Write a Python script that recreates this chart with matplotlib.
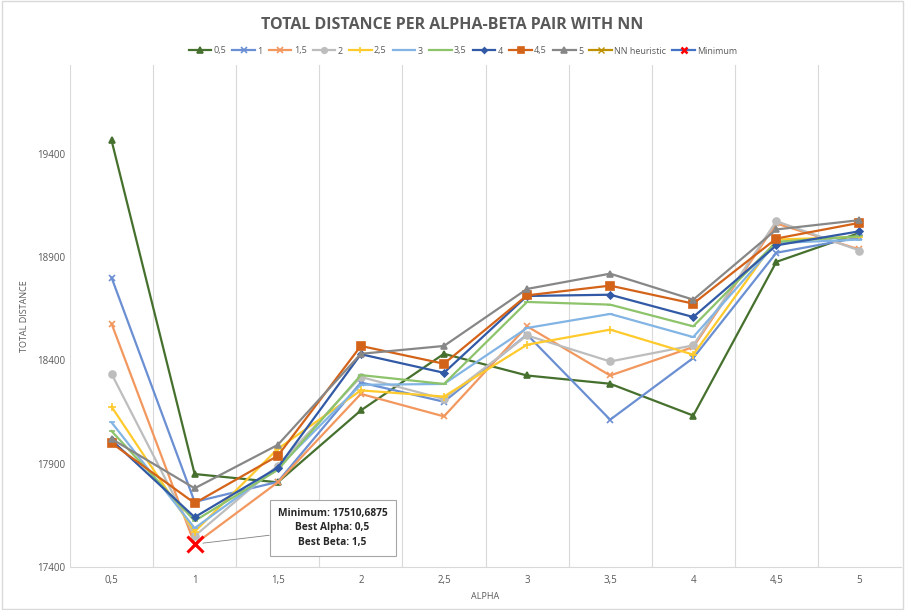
import numpy as np
import matplotlib.pyplot as plt
from matplotlib.patches import Rectangle

plt.rcParams['font.family'] = ['Open Sans', 'DejaVu Sans']

alphas = ['0,5', '1', '1,5', '2', '2,5', '3', '3,5', '4', '4,5', '5']

# one list per beta value, total distance for each alpha
beta_05 = [19465, 17850, 17810, 18158, 18432, 18327, 18287, 18133, 18877, 19017]
beta_1 = [18801, 17715, 17812, 18293, 18200, 18525, 18113, 18412, 18921, 18995]
beta_15 = [18578, 17510.6875, 17810, 18238, 18129, 18565, 18327, 18465, 19063, 18937]
beta_2 = [18335, 17550, 17891, 18320, 18213, 18521, 18395, 18473, 19074, 18932]
beta_25 = [18176, 17571, 17972, 18255, 18225, 18476, 18549, 18428, 18985, 18998]
beta_3 = [18100, 17588, 17880, 18282, 18286, 18557, 18625, 18513, 18968, 18985]
beta_35 = [18058, 17623, 17870, 18329, 18286, 18683, 18670, 18565, 18974, 19001]
beta_4 = [18014, 17641, 17881, 18430, 18340, 18712, 18718, 18610, 18957, 19025]
beta_45 = [18000, 17709, 17938, 18470, 18384, 18715, 18762, 18675, 18990, 19066]
beta_5 = [18020, 17781, 17991, 18432, 18470, 18746, 18820, 18694, 19034, 19079]
nn_heuristic = []

min_value = 17510.6875
min_alpha_idx = 1

labels = ['0,5', '1', '1,5', '2', '2,5', '3', '3,5', '4', '4,5', '5']
series = [beta_05, beta_1, beta_15, beta_2, beta_25, beta_3, beta_35, beta_4, beta_45, beta_5]
colors = ['#46702D', '#6A8FD2', '#F2985F', '#BDBDBD', '#FFCA2C',
          '#82B4E4', '#8DC36A', '#3159A5', '#D4631A', '#878787']
markers = ['^', 'x', 'x', 'o', '+', '_', '_', 'D', 's', '^']
msizes = [5, 5, 5, 5, 6, 5, 5, 3.5, 6, 5]

fig = plt.figure(figsize=(9.05, 6.1), dpi=100)
ax = fig.add_axes([70/905, 43/610, 831/905, 502/610])

x = np.arange(len(alphas))
for vals, lab, c, m, ms in zip(series, labels, colors, markers, msizes):
    ax.plot(x, vals, color=c, lw=1.6, marker=m, markersize=ms,
            markeredgewidth=1.2, label=lab)

ax.plot(x[:len(nn_heuristic)], nn_heuristic, color='#BF9000', lw=1.6, marker='x',
        markersize=5, label='NN heuristic')
# small copy for the legend, big red cross on the chart
ax.plot([min_alpha_idx], [min_value], color='#4472C4', lw=1.6, marker='x', markersize=6,
        markeredgewidth=1.8, markeredgecolor='#FF0000', label='Minimum')
ax.plot([min_alpha_idx], [min_value], linestyle='none', marker='x', markersize=11,
        markeredgewidth=2.2, color='#FF0000')

ax.annotate('Minimum: 17510,6875\nBest Alpha: 0,5\nBest Beta: 1,5',
            xy=(min_alpha_idx, min_value), xytext=(2.66, 17590),
            ha='center', va='center', fontsize=7.3, fontweight='bold', color='#262626',
            linespacing=1.45,
            bbox=dict(boxstyle='square,pad=0.8', fc='white', ec='#A6A6A6', lw=0.8),
            arrowprops=dict(arrowstyle='-', color='#7F7F7F', lw=0.6, shrinkA=0, shrinkB=6))

ax.set_xlim(-0.5, len(alphas) - 0.5)
ax.set_ylim(17400, 19830)
ax.set_xticks(x)
ax.set_xticklabels(alphas)
ax.set_yticks([17400, 17900, 18400, 18900, 19400])
ax.tick_params(length=0, labelsize=7, colors='#595959')
ax.tick_params(axis='x', pad=6)
for b in np.arange(-0.5, len(alphas), 1):
    ax.axvline(b, color='#D9D9D9', lw=0.8, zorder=0)
for s in ['top', 'right', 'left']:
    ax.spines[s].set_visible(False)
ax.spines['bottom'].set_color('#D9D9D9')

ax.set_xlabel('ALPHA', fontsize=6.5, color='#595959', labelpad=4)
ax.set_ylabel('TOTAL DISTANCE', fontsize=6.5, color='#595959', labelpad=6)

fig.text(0.5, 1 - 25/610, 'TOTAL DISTANCE PER ALPHA-BETA PAIR WITH NN',
         ha='center', va='center', fontsize=11.5, fontweight='bold', color='#595959')

fig.legend(loc='center', bbox_to_anchor=(463/905, 1 - 51/610), ncol=12, frameon=False,
           fontsize=6.5, labelcolor='#595959', handlelength=2.5, columnspacing=0.7,
           handletextpad=0.25, markerscale=0.8)

fig.add_artist(Rectangle((0.002, 0.002), 0.996, 0.996, transform=fig.transFigure,
                         fill=False, ec='#D9D9D9', lw=1))

fig.savefig('out.png', dpi=100)
